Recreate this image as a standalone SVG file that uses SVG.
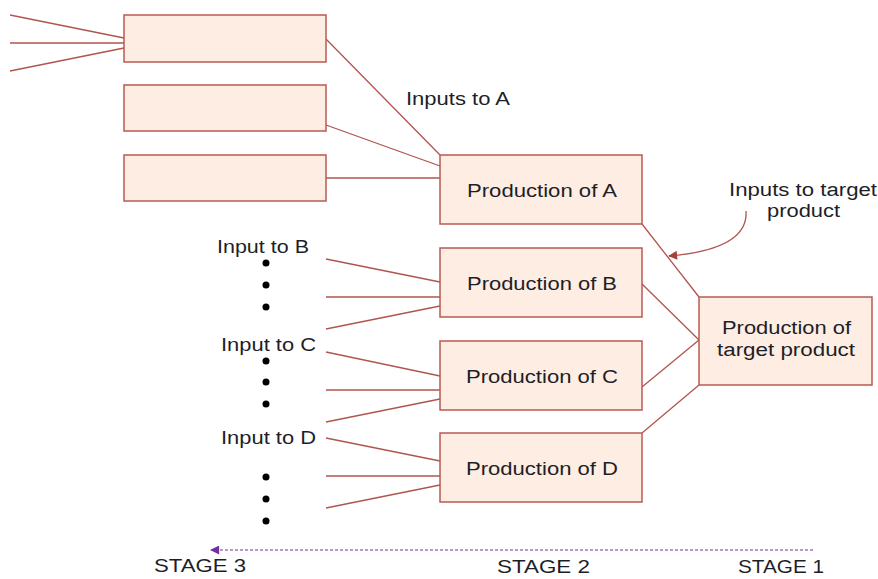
<svg xmlns="http://www.w3.org/2000/svg" width="878" height="579" viewBox="0 0 878 579">
<style>
.box{fill:#fdede2;stroke:#b85a52;stroke-width:1.5}
.ln{stroke:#b0554d;stroke-width:1.3;fill:none}
.t{font-family:"Liberation Sans",Arial,sans-serif;font-size:18px;fill:#1e1e28}
.dot{fill:#000}
</style>
<defs>
<marker id="ah" viewBox="0 0 10 10" refX="9" refY="5" markerWidth="11" markerHeight="9" orient="auto" markerUnits="userSpaceOnUse">
<path d="M0,0 L10,5 L0,10 z" fill="#a8403a"/>
</marker>
<marker id="ahp" viewBox="0 0 10 10" refX="9" refY="5" markerWidth="12" markerHeight="9" orient="auto" markerUnits="userSpaceOnUse">
<path d="M0,0 L10,5 L0,10 z" fill="#7030a0"/>
</marker>
</defs>
<rect width="878" height="579" fill="#fff"/>
<g id="connectors">
<line class="ln" x1="10" y1="15" x2="124" y2="38"/>
<line class="ln" x1="10" y1="43" x2="124" y2="43"/>
<line class="ln" x1="10" y1="71" x2="124" y2="48"/>
<line class="ln" x1="326" y1="39" x2="440" y2="155"/>
<line class="ln" x1="326" y1="125" x2="440" y2="166"/>
<line class="ln" x1="326" y1="178" x2="440" y2="178"/>
<line class="ln" x1="326" y1="259" x2="440" y2="282"/>
<line class="ln" x1="326" y1="297" x2="440" y2="297"/>
<line class="ln" x1="326" y1="329" x2="440" y2="306"/>
<line class="ln" x1="326" y1="352" x2="440" y2="376"/>
<line class="ln" x1="326" y1="390" x2="440" y2="390"/>
<line class="ln" x1="326" y1="422" x2="440" y2="399"/>
<line class="ln" x1="326" y1="438" x2="440" y2="461"/>
<line class="ln" x1="326" y1="476" x2="440" y2="476"/>
<line class="ln" x1="326" y1="508" x2="440" y2="485"/>
<line class="ln" x1="642" y1="224" x2="699" y2="297"/>
<line class="ln" x1="642" y1="284" x2="699" y2="340"/>
<line class="ln" x1="642" y1="387" x2="699" y2="340"/>
<line class="ln" x1="642" y1="433" x2="699" y2="385"/>
<path class="ln" d="M746,211 C748,240 715,252 669,256" marker-end="url(#ah)"/>
<line x1="813" y1="550" x2="211" y2="550" stroke="#7030a0" stroke-width="1" stroke-dasharray="3,2" marker-end="url(#ahp)"/>
</g>
<g id="box1"><rect class="box" x="124" y="15" width="202" height="47"/></g>
<g id="box2"><rect class="box" x="124" y="85" width="202" height="46"/></g>
<g id="box3"><rect class="box" x="124" y="155" width="202" height="46"/></g>
<g id="prodA"><rect class="box" x="440" y="155" width="202" height="69"/><text class="t" x="467" y="197" textLength="150" lengthAdjust="spacingAndGlyphs">Production of A</text></g>
<g id="prodB"><rect class="box" x="440" y="248" width="202" height="69"/><text class="t" x="467" y="290" textLength="150" lengthAdjust="spacingAndGlyphs">Production of B</text></g>
<g id="prodC"><rect class="box" x="440" y="341" width="202" height="69"/><text class="t" x="466" y="383" textLength="152" lengthAdjust="spacingAndGlyphs">Production of C</text></g>
<g id="prodD"><rect class="box" x="440" y="433" width="202" height="69"/><text class="t" x="466" y="475" textLength="152" lengthAdjust="spacingAndGlyphs">Production of D</text></g>
<g id="target"><rect class="box" x="699" y="297" width="173" height="88"/>
<text class="t" x="722" y="334" textLength="129" lengthAdjust="spacingAndGlyphs">Production of</text>
<text class="t" x="717" y="356" textLength="138" lengthAdjust="spacingAndGlyphs">target product</text></g>
<g id="labels">
<text class="t" x="406" y="105" textLength="104" lengthAdjust="spacingAndGlyphs">Inputs to A</text>
<text class="t" x="729" y="196" textLength="148" lengthAdjust="spacingAndGlyphs">Inputs to target</text>
<text class="t" x="767" y="217" textLength="73" lengthAdjust="spacingAndGlyphs">product</text>
<text class="t" x="217" y="253" textLength="92" lengthAdjust="spacingAndGlyphs">Input to B</text>
<text class="t" x="221" y="351" textLength="95" lengthAdjust="spacingAndGlyphs">Input to C</text>
<text class="t" x="221" y="444" textLength="95" lengthAdjust="spacingAndGlyphs">Input to D</text>
<text class="t" x="154" y="572" textLength="92" lengthAdjust="spacingAndGlyphs">STAGE 3</text>
<text class="t" x="497" y="573" textLength="93" lengthAdjust="spacingAndGlyphs">STAGE 2</text>
<text class="t" x="738" y="573" textLength="86" lengthAdjust="spacingAndGlyphs">STAGE 1</text>
</g>
<g id="dots">
<circle class="dot" cx="266" cy="263" r="3.5"/>
<circle class="dot" cx="266" cy="285" r="3.5"/>
<circle class="dot" cx="266" cy="307" r="3.5"/>
<circle class="dot" cx="266" cy="361" r="3.5"/>
<circle class="dot" cx="266" cy="382" r="3.5"/>
<circle class="dot" cx="266" cy="404" r="3.5"/>
<circle class="dot" cx="266" cy="477" r="3.5"/>
<circle class="dot" cx="266" cy="499" r="3.5"/>
<circle class="dot" cx="266" cy="521" r="3.5"/>
</g>
</svg>
